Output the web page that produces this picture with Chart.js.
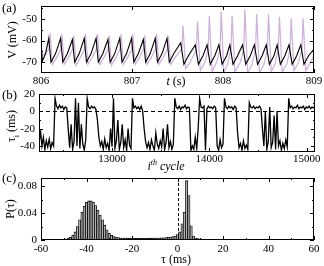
<!DOCTYPE html>
<html>
<head>
<meta charset="utf-8">
<script src="https://cdn.jsdelivr.net/npm/chart.js@4.4.0/dist/chart.umd.min.js"></script>
<style>
  body { margin: 0; background: #fff; }
  #wrap { position: relative; width: 324px; height: 266px; overflow: hidden; }
  canvas { position: absolute; left: 0; }
  .txt { position: absolute; font-family: "Liberation Serif", serif; font-size: 12px; color: #000; white-space: nowrap; line-height: 1; }
  .ctr { transform: translate(-50%, -50%); }
  .rot { transform: translate(-50%, -50%) rotate(-90deg); }
  .pan { font-size: 13px; }
</style>
</head>
<body>
<div id="wrap">
  <canvas id="chartA" width="324" height="88" style="top:0"></canvas>
  <canvas id="chartB" width="324" height="78" style="top:88px"></canvas>
  <canvas id="chartC" width="324" height="94" style="top:172px"></canvas>

  <div class="txt pan" style="left:2px;top:1px">(a)</div>
  <div class="txt rot" style="left:12px;top:40px">V (mV)</div>
  <div class="txt ctr" style="left:176px;top:81px"><i>t</i> (s)</div>

  <div class="txt pan" style="left:2px;top:88px">(b)</div>
  <div class="txt rot" style="left:13px;top:126px">τ<sub style="font-size:8px">i</sub> (ms)</div>
  <div class="txt ctr" style="left:166px;top:165px"><i>i</i><sup style="font-size:8px"><i>th</i></sup> <i>cycle</i></div>

  <div class="txt pan" style="left:2px;top:171px">(c)</div>
  <div class="txt rot" style="left:10px;top:209px">P(τ)</div>
  <div class="txt ctr" style="left:176px;top:259px">τ (ms)</div>
</div>

<script>
// ---- panel (a): membrane potential, t (s) vs V (mV)
let blackT = [806.00, 806.015, 806.05,
  806.085, 806.11, 806.16, 806.215, 806.24, 806.29, 806.345, 806.37, 806.42,
  806.475, 806.50, 806.55, 806.605, 806.63, 806.68, 806.735, 806.76, 806.81,
  806.865, 806.89, 806.94, 806.995, 807.02, 807.07, 807.125, 807.15, 807.20,
  807.255, 807.28, 807.33, 807.385, 807.41, 807.46, 807.535, 807.57, 807.62,
  807.695, 807.73, 807.78, 807.825, 807.86, 807.91, 807.955, 807.99, 808.04,
  808.075, 808.11, 808.16, 808.215, 808.25, 808.30, 808.345, 808.38, 808.43,
  808.475, 808.51, 808.56, 808.595, 808.63, 808.68, 808.725, 808.76, 808.81,
  808.855, 808.89, 808.94, 809.00]
let blackV = [-60, -69.5, -66,
  -59, -70, -66, -59, -70, -66, -59.5, -70, -66,
  -59, -70, -66, -59, -70, -66, -59.5, -70, -66,
  -59, -70, -66, -59, -70, -66, -59.5, -70, -66,
  -59, -70, -66, -59, -70, -66, -61, -71, -67,
  -62, -71, -67, -62, -71, -67, -62, -71, -67,
  -62, -71, -67, -62, -71, -67, -62, -71, -67,
  -62, -71, -67, -62, -71, -67, -62, -71, -67,
  -62, -71, -67, -64]

let purpleT = [806.00, 806.05,
  806.088, 806.10, 806.125, 806.17, 806.218, 806.23, 806.255, 806.30,
  806.348, 806.36, 806.385, 806.43, 806.478, 806.49, 806.515, 806.56,
  806.608, 806.62, 806.645, 806.69, 806.738, 806.75, 806.775, 806.82,
  806.868, 806.88, 806.905, 806.95, 806.998, 807.01, 807.035, 807.08,
  807.128, 807.14, 807.165, 807.21, 807.258, 807.27, 807.295, 807.34,
  807.388, 807.40, 807.425, 807.47, 807.548, 807.56, 807.59, 807.64,
  807.708, 807.72, 807.75, 807.80, 807.838, 807.85, 807.88, 807.93,
  807.968, 807.98, 808.01, 808.05, 808.088, 808.10, 808.13, 808.19,
  808.228, 808.24, 808.27, 808.32, 808.358, 808.37, 808.40, 808.45,
  808.488, 808.50, 808.53, 808.57, 808.608, 808.62, 808.65, 808.70,
  808.738, 808.75, 808.78, 808.83, 808.868, 808.88, 808.91, 808.96, 809.00]
let purpleV = [-67, -66,
  -64, -56.5, -71, -68, -64, -57, -71, -68,
  -64, -57.5, -71.5, -68, -64, -57, -71, -68,
  -64, -57, -71, -68, -64, -57.5, -71.5, -68,
  -64, -57, -71, -68, -64, -57, -71, -68,
  -64, -57.5, -71, -68, -64, -57, -71, -68,
  -64, -58, -71, -68, -64, -53, -73, -70,
  -64, -51, -74, -70, -64, -48.5, -74.5, -70,
  -64, -46.6, -75, -71, -64, -48.5, -74.5, -70,
  -64, -45.5, -75, -71, -64, -47.7, -75, -71,
  -64, -47.7, -74.5, -71, -64, -49, -74.5, -71,
  -64, -49.7, -74, -70, -64, -49.7, -74, -70, -67]

let aXLabels = [806, 807, 808, 809]
let aYLabels = [-50, -60, -70]
let aYMinor = [-45, -55, -65]

// ---- panel (b): tau_i (ms) vs cycle index
let cycleStart = 12250
let cycleStep = 15
let tauValues = [
  -38, -22, -40, -30, -44, -34, -41, -32, -43, -36, -40,
  15,
  6, 3, 7, 4, 6, 2, 5, 4,
  -20,
  -42, -15, -44, -35, 15, -40, 10, -43, -15, -38, -45, -33,
  15,
  5, 3, 6, 4, 5, 2,
  -10, -30,
  -40, -35, -44, -32, -42, -37, -45, -20, -41, 15, -43, -34, -10, -44, -36, -15, -42, -33, -45, -20, -39, -43,
  15,
  4, 6, 3, 5, 2, 6,
  0, -20, -35,
  -42, -36, -44, -33, -40, -45, -25, -38, -43, -34, -41, -20, -44, -36, -15, -42, -35, -44, -38,
  15,
  5, 3, 6, 2, 5, 4, 7, 3, 5, 4,
  -45, -40,
  -44, -30, -43, -20, 15,
  5, 4, 6, -45, 3, 6, 4, 5, 3, 6, 4,
  -40, -45, -33, -42, -38,
  15,
  5, 3, 6, 4, 5, 2, 6, 4,
  -25,
  -42, -37, -45, -34, -43, -39, -44,
  10,
  5, 4, 6, 3, 5, 4, 6, 3,
  -20,
  -40, 0, -44, -35, 5, -42, -36, -5, -44, 0, -40, -34, -45, -37, -43, -33, -41,
  15,
  4, 6, 3, 5, 4, 7, 3, 5, 4, 6, 2, 5, 4, 6, 3, 5, 4, 6
]
let bXLabels = [13000, 14000, 15000]
let bXMinor = [12500, 13500, 14500]
let bYLabels = [20, 0, -20, -40]
let bYMinor = [10, -10, -30]

// ---- panel (c): histogram P(tau)
let histTau = [-51, -50, -49, -48, -47, -46, -45, -44, -43, -42, -41, -40, -39, -38, -37, -36,
  -35, -34, -33, -32, -31, -30, -29, -28, -27, -26, -25, -24, -23, -22, -21, -20,
  -19, -18, -17, -16, -15, -14, -13, -12, -11, -10, -9, -8, -7, -6, -5, -4,
  -3, -2, -1, 0, 1, 2, 3, 4, 5, 6, 7, 8, 9, 10, 11, 12, 13]
let histP = [0.0003, 0.0008, 0.0015, 0.0025, 0.004, 0.007, 0.012, 0.02, 0.03, 0.041, 0.05, 0.056, 0.058, 0.058, 0.056, 0.051,
  0.044, 0.037, 0.03, 0.022, 0.015, 0.01, 0.007, 0.005, 0.004, 0.0035, 0.003, 0.003, 0.0028, 0.0027, 0.0027, 0.0026,
  0.0025, 0.0025, 0.0025, 0.0025, 0.0025, 0.0026, 0.0026, 0.0027, 0.0027, 0.0028, 0.003, 0.003, 0.0032, 0.0034, 0.0036, 0.004,
  0.0045, 0.005, 0.006, 0.008, 0.012, 0.024, 0.041, 0.088, 0.066, 0.021, 0.006, 0.003, 0.002, 0.0015, 0.001, 0.0007, 0.0004]
let cXLabels = [-60, -40, -20, 0, 20, 40, 60]
let cXMinor = [-50, -30, -10, 10, 30, 50]
let cYLabels = [0, 0.04, 0.08]
let cYMinor = [0.02, 0.06]

let tickFont = { family: 'Liberation Serif', size: 11 }

// box round the plot, inward ticks on all four sides, dashed zero line
const frame = {
  id: 'frame',
  afterDatasetsDraw(chart, args, opts) {
    const ctx = chart.ctx
    const a = chart.chartArea
    const sx = chart.scales.x, sy = chart.scales.y
    ctx.save()
    ctx.strokeStyle = '#000'
    ctx.lineWidth = 1
    if (opts.zeroY) {
      let y = Math.round(sy.getPixelForValue(0)) + 0.5
      ctx.setLineDash([4, 3])
      ctx.beginPath(); ctx.moveTo(a.left, y); ctx.lineTo(a.right, y); ctx.stroke()
      ctx.setLineDash([])
    }
    if (opts.zeroX) {
      let x = Math.round(sx.getPixelForValue(0)) + 0.5
      ctx.setLineDash([3, 2])
      ctx.beginPath(); ctx.moveTo(x, a.top); ctx.lineTo(x, a.bottom); ctx.stroke()
      ctx.setLineDash([])
    }
    ctx.strokeRect(Math.round(a.left) + 0.5, Math.round(a.top) + 0.5, Math.round(a.width) - 1, Math.round(a.height) - 1)
    function xt(vals, len) {
      for (let v of vals || []) {
        let x = Math.round(sx.getPixelForValue(v)) + 0.5
        ctx.beginPath()
        ctx.moveTo(x, a.bottom); ctx.lineTo(x, a.bottom - len)
        ctx.moveTo(x, a.top); ctx.lineTo(x, a.top + len)
        ctx.stroke()
      }
    }
    function yt(vals, len) {
      for (let v of vals || []) {
        let y = Math.round(sy.getPixelForValue(v)) + 0.5
        ctx.beginPath()
        ctx.moveTo(a.left, y); ctx.lineTo(a.left + len, y)
        ctx.moveTo(a.right, y); ctx.lineTo(a.right - len, y)
        ctx.stroke()
      }
    }
    xt(opts.xMajor, 4); xt(opts.xMinor, 2)
    yt(opts.yMajor, 4); yt(opts.yMinor, 2)
    ctx.restore()
  }
}

function xScale(min, max, labels, height, pad) {
  return {
    type: 'linear', min: min, max: max, offset: false,
    grid: { display: false, drawTicks: false, offset: false }, border: { display: false },
    afterBuildTicks: s => { s.ticks = labels.map(v => ({ value: v })) },
    afterFit: s => { s.height = height; s.paddingLeft = 0; s.paddingRight = 0 },
    ticks: { font: tickFont, color: '#000', padding: pad, maxRotation: 0, autoSkip: false, callback: v => String(v) }
  }
}

function yScale(min, max, labels, width) {
  return {
    type: 'linear', min: min, max: max,
    grid: { display: false, drawTicks: false }, border: { display: false },
    afterBuildTicks: s => { s.ticks = labels.map(v => ({ value: v })) },
    afterFit: s => { s.width = width; s.paddingTop = 0; s.paddingBottom = 0 },
    ticks: { font: tickFont, color: '#000', padding: 4, autoSkip: false, callback: v => String(v) }
  }
}

function baseOptions(pad) {
  return {
    responsive: false, animation: false, devicePixelRatio: 1,
    layout: { padding: pad },
    elements: { point: { radius: 0 }, line: { tension: 0 } },
    plugins: { legend: { display: false }, tooltip: { enabled: false } }
  }
}

// (a)
let optA = baseOptions({ top: 6, right: 10, left: 0, bottom: 0 })
optA.plugins.frame = { xMajor: aXLabels, yMajor: aYLabels, yMinor: aYMinor }
optA.scales = { x: xScale(806, 809, aXLabels, 15, 2), y: yScale(-75, -44, aYLabels, 41) }
new Chart(document.getElementById('chartA'), {
  type: 'line',
  data: {
    datasets: [
      { data: blackT.map((t, i) => ({ x: t, y: blackV[i] })), borderColor: '#000', borderWidth: 1.1 },
      { data: purpleT.map((t, i) => ({ x: t, y: purpleV[i] })), borderColor: '#cdb0dc', borderWidth: 1.2 }
    ]
  },
  options: optA,
  plugins: [frame]
})

// (b)
let optB = baseOptions({ top: 6, right: 9, left: 0, bottom: 0 })
optB.plugins.frame = { xMajor: bXLabels, xMinor: bXMinor, yMajor: bYLabels, yMinor: bYMinor, zeroY: true }
optB.scales = { x: xScale(12250, 15085, bXLabels, 14, 1), y: yScale(-47, 20, bYLabels, 39) }
new Chart(document.getElementById('chartB'), {
  type: 'line',
  data: {
    datasets: [
      { data: tauValues.map((v, i) => ({ x: cycleStart + i * cycleStep, y: v })), borderColor: '#000', borderWidth: 1.3 }
    ]
  },
  options: optB,
  plugins: [frame]
})

// (c)
let optC = baseOptions({ top: 6, right: 10, left: 0, bottom: 0 })
optC.plugins.frame = { xMajor: cXLabels, xMinor: cXMinor, yMajor: cYLabels, yMinor: cYMinor, zeroX: true }
optC.scales = { x: xScale(-60, 60, cXLabels, 26, 3), y: yScale(0, 0.092, cYLabels, 41) }
new Chart(document.getElementById('chartC'), {
  type: 'bar',
  data: {
    datasets: [
      {
        data: histTau.map((t, i) => ({ x: t, y: histP[i] })),
        backgroundColor: '#b4b4b4', borderColor: '#000', borderWidth: 0.8,
        barPercentage: 1, categoryPercentage: 1, grouped: false
      }
    ]
  },
  options: optC,
  plugins: [frame]
})
</script>
</body>
</html>
